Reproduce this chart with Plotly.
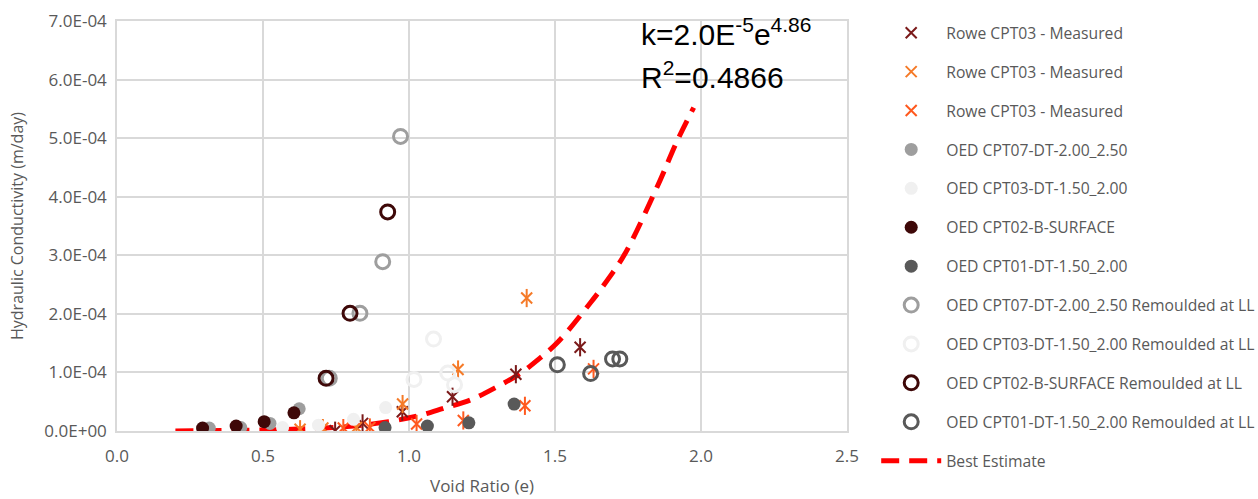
import plotly.graph_objects as go

# ---------------- data (void ratio e, hydraulic conductivity k in m/day) ----------------
rowe1_e = [0.747, 0.841, 0.977, 1.149, 1.366, 1.586]
rowe1_k = [0.005e-4, 0.13e-4, 0.33e-4, 0.585e-4, 0.97e-4, 1.43e-4]

rowe2_e = [0.627, 0.705, 0.820, 0.978, 1.168, 1.403]
rowe2_k = [0.03e-4, 0.05e-4, 0.06e-4, 0.46e-4, 1.05e-4, 2.27e-4]

rowe3_e = [0.775, 0.866, 1.026, 1.186, 1.397, 1.632]
rowe3_k = [0.05e-4, 0.06e-4, 0.12e-4, 0.18e-4, 0.43e-4, 1.06e-4]

cpt07_e = [0.316, 0.424, 0.524, 0.624]
cpt07_k = [0.05e-4, 0.06e-4, 0.13e-4, 0.38e-4]

cpt03_e = [0.567, 0.690, 0.810, 0.920]
cpt03_k = [0.06e-4, 0.10e-4, 0.20e-4, 0.40e-4]

cpt02_e = [0.293, 0.408, 0.504, 0.606]
cpt02_k = [0.05e-4, 0.085e-4, 0.16e-4, 0.31e-4]

cpt01_e = [0.918, 1.063, 1.205, 1.360]
cpt01_k = [0.06e-4, 0.085e-4, 0.14e-4, 0.46e-4]

cpt07r_e = [0.727, 0.832, 0.910, 0.971]
cpt07r_k = [0.90e-4, 2.01e-4, 2.89e-4, 5.03e-4]

cpt03r_e = [1.017, 1.084, 1.133, 1.156]
cpt03r_k = [0.88e-4, 1.57e-4, 0.99e-4, 0.79e-4]

cpt02r_e = [0.716, 0.798, 0.927]
cpt02r_k = [0.90e-4, 2.01e-4, 3.74e-4]

cpt01r_e = [1.508, 1.622, 1.697, 1.722]
cpt01r_k = [1.13e-4, 0.98e-4, 1.23e-4, 1.23e-4]

best_e = [0.20, 0.40, 0.60, 0.80, 0.93, 1.04, 1.12, 1.21, 1.30, 1.38, 1.44,
          1.51, 1.62, 1.68, 1.74, 1.85, 1.92, 1.975]
best_k = [0.00e-4, 0.01e-4, 0.03e-4, 0.08e-4, 0.16e-4, 0.27e-4, 0.39e-4, 0.53e-4,
          0.75e-4, 0.98e-4, 1.21e-4, 1.52e-4, 2.18e-4, 2.58e-4, 3.03e-4, 4.17e-4,
          4.97e-4, 5.52e-4]

y_tickvals = [0, 1e-4, 2e-4, 3e-4, 4e-4, 5e-4, 6e-4, 7e-4]
y_ticktext = ["0.0E+00", "1.0E-04", "2.0E-04", "3.0E-04", "4.0E-04", "5.0E-04", "6.0E-04", "7.0E-04"]
x_tickvals = [0.0, 0.5, 1.0, 1.5, 2.0, 2.5]

eq_line1 = "k=2.0E<sup>-5</sup>e<sup>4.86</sup>"
eq_line2 = "R<sup>2</sup>=0.4866"

# ---------------- figure ----------------
FONT = "Open Sans"
GRID = "#D9D9D9"
TXT = "#595959"

fig = go.Figure()

# best estimate line (drawn first, listed last)
fig.add_trace(go.Scatter(
    x=best_e, y=best_k, mode="lines", name="Best Estimate",
    line=dict(color="#FF0000", width=5, dash="18px,10px", shape="spline"),
    legendrank=2000, legendgroup="g12"))

star_series = [
    ("Rowe CPT03 - Measured", rowe1_e, rowe1_k, "#7B1A1A", "g1"),
    ("Rowe CPT03 - Measured", rowe2_e, rowe2_k, "#F57A28", "g2"),
    ("Rowe CPT03 - Measured", rowe3_e, rowe3_k, "#FF5A1F", "g3"),
]
rank = 1
for name, xs, ys, col, grp in star_series:
    fig.add_trace(go.Scatter(
        x=xs, y=ys, mode="markers", name=name, legendgroup=grp, legendrank=rank,
        marker=dict(symbol="x-thin-open", size=11, color=col, line=dict(color=col, width=2))))
    fig.add_trace(go.Scatter(
        x=xs, y=ys, mode="markers", name=name, legendgroup=grp, showlegend=False,
        marker=dict(symbol="line-ns-open", size=13, color=col, line=dict(color=col, width=2))))
    rank += 1

filled = [
    ("OED CPT07-DT-2.00_2.50", cpt07_e, cpt07_k, "#9E9E9E", "g4"),
    ("OED CPT03-DT-1.50_2.00", cpt03_e, cpt03_k, "#F0F0F0", "g5"),
    ("OED CPT02-B-SURFACE", cpt02_e, cpt02_k, "#3E0808", "g6"),
    ("OED CPT01-DT-1.50_2.00", cpt01_e, cpt01_k, "#595959", "g7"),
]
for name, xs, ys, col, grp in filled:
    fig.add_trace(go.Scatter(
        x=xs, y=ys, mode="markers", name=name, legendgroup=grp, legendrank=rank,
        marker=dict(symbol="circle", size=13, color=col, line=dict(width=0))))
    rank += 1

openc = [
    ("OED CPT07-DT-2.00_2.50 Remoulded at LL", cpt07r_e, cpt07r_k, "#9E9E9E", "g8"),
    ("OED CPT03-DT-1.50_2.00 Remoulded at LL", cpt03r_e, cpt03r_k, "#F0F0F0", "g9"),
    ("OED CPT02-B-SURFACE Remoulded at LL", cpt02r_e, cpt02r_k, "#3E0808", "g10"),
    ("OED CPT01-DT-1.50_2.00 Remoulded at LL", cpt01r_e, cpt01r_k, "#595959", "g11"),
]
for name, xs, ys, col, grp in openc:
    fig.add_trace(go.Scatter(
        x=xs, y=ys, mode="markers", name=name, legendgroup=grp, legendrank=rank,
        marker=dict(symbol="circle-open", size=14, color=col, line=dict(color=col, width=3))))
    rank += 1

fig.update_layout(
    width=1258, height=499,
    margin=dict(l=117, r=411, t=21, b=68, autoexpand=False),
    paper_bgcolor="white", plot_bgcolor="white",
    font=dict(family=FONT, color=TXT),
    showlegend=True,
    legend=dict(
        x=1.04, xanchor="left", yref="container", y=0.968, yanchor="top",
        maxheight=495,
        font=dict(family=FONT, size=15.7, color=TXT),
        traceorder="grouped", tracegroupgap=15.5,
        itemwidth=60, bgcolor="rgba(0,0,0,0)",
    ),
    xaxis=dict(
        range=[0, 2.5], tickvals=x_tickvals, tickformat=".1f",
        showgrid=True, gridcolor=GRID, gridwidth=1.5,
        showline=True, linecolor=GRID, linewidth=1.5, mirror=True,
        zeroline=False, ticks="", ticklabelstandoff=9,
        tickfont=dict(family=FONT, size=17, color=TXT),
        title=dict(text="Void Ratio (e)", font=dict(family=FONT, size=17, color=TXT), standoff=14),
    ),
    yaxis=dict(
        range=[0, 7e-4], tickvals=y_tickvals, ticktext=y_ticktext,
        showgrid=True, gridcolor=GRID, gridwidth=1.5,
        showline=True, linecolor=GRID, linewidth=1.5, mirror=True,
        zeroline=False, ticks="", ticklabelstandoff=5,
        tickfont=dict(family=FONT, size=17, color=TXT),
        title=dict(text="Hydraulic Conductivity (m/day)", font=dict(family=FONT, size=16, color=TXT), standoff=17),
    ),
    shapes=[dict(type="rect", xref="paper", yref="paper",
                 x0=0.686, x1=0.988, y0=0.802, y1=1.012,
                 fillcolor="white", line=dict(width=0), layer="between")],
    annotations=[
        dict(xref="paper", yref="paper", x=0.715, y=0.973, xanchor="left", yanchor="middle",
             align="left", showarrow=False, text=eq_line1,
             font=dict(family="Liberation Sans", size=30, color="#000000")),
        dict(xref="paper", yref="paper", x=0.715, y=0.869, xanchor="left", yanchor="middle",
             align="left", showarrow=False, text=eq_line2,
             font=dict(family="Liberation Sans", size=30, color="#000000")),
    ],
)

fig.write_html("out.html")
